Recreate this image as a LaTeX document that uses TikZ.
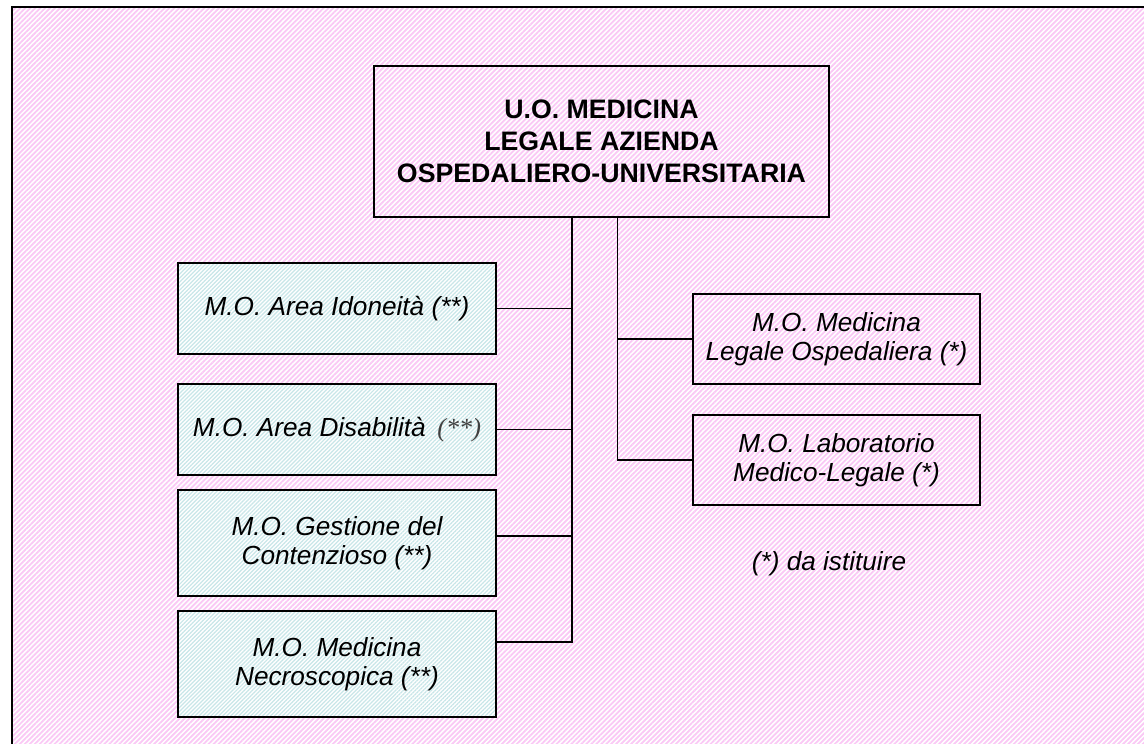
\documentclass[tikz,border=0pt]{standalone}
\usepackage{fontspec}
\setmainfont{Liberation Sans}
\newfontfamily\serifit{Liberation Serif}
\usetikzlibrary{patterns.meta}
\definecolor{pinkline}{RGB}{250,200,245}
\definecolor{cyanline}{RGB}{200,230,232}
\tikzset{
  topbox/.style={draw, line width=1.1pt, minimum width=9.1cm, minimum height=3.02cm, align=center,
    font=\fontsize{15.2}{18.2}\selectfont\bfseries},
  leftbox/.style={draw, line width=1.1pt, minimum width=6.36cm, align=center,
    preaction={fill=white}, pattern={Lines[angle=45,distance=1.6pt,line width=0.7pt]}, pattern color=cyanline,
    font=\fontsize{14.9}{16.5}\selectfont\itshape},
  rightbox/.style={draw, line width=1.1pt, minimum width=5.74cm, minimum height=1.8cm, align=center,
    font=\fontsize{14.9}{16.5}\selectfont\itshape},
  link/.style={line width=1.1pt}
}
\begin{document}
\begin{tikzpicture}[x=0.02cm, y=-0.02cm]
\useasboundingbox (0,0) rectangle (1144,744);
\clip (0,0) rectangle (1144,744);
% background frame
\draw[line width=1.3pt, preaction={fill=white}, pattern={Lines[angle=45,distance=2pt,line width=1pt]}, pattern color=pinkline]
  (12,7) rectangle (1170,770);

\node[topbox] (uo) at (601.5,141.5) {U.O. MEDICINA\\LEGALE AZIENDA\\OSPEDALIERO-UNIVERSITARIA};

\node[leftbox, minimum height=1.82cm] (ido) at (337,308.5) {M.O. Area Idoneità (**)};
\node[leftbox, minimum height=1.82cm] (dis) at (337,429.5) {M.O. Area Disabilità {\serifit\color{black!75}\,(**)}};
\node[leftbox, minimum height=2.12cm] (cont) at (337,543) {M.O. Gestione del\\Contenzioso (**)};
\node[leftbox, minimum height=2.12cm] (necro) at (337,664) {M.O. Medicina\\Necroscopica (**)};

\node[rightbox] (osp) at (836.5,339) {M.O. Medicina\\Legale Ospedaliera (*)};
\node[rightbox] (lab) at (836.5,460) {M.O. Laboratorio\\Medico-Legale (*)};

\node[font=\fontsize{14.9}{16.5}\selectfont\itshape] (note) at (829,564) {(*) da istituire};

% left branch
\coordinate (tl) at (572,217);
\coordinate (j3) at (572,536);
\coordinate (j4) at (572,642);
\draw[link] (tl) -- (j4) -- (necro.east |- j4);
\draw[link] (ido.east) -- (ido.east -| tl);
\draw[link] (dis.east) -- (dis.east -| tl);
\draw[link] (cont.east |- j3) -- (j3);

% right branch
\coordinate (tr) at (617.5,217);
\draw[link] (tr) |- (lab.west);
\draw[link] (osp.west) -- (osp.west -| tr);
\end{tikzpicture}
\end{document}
